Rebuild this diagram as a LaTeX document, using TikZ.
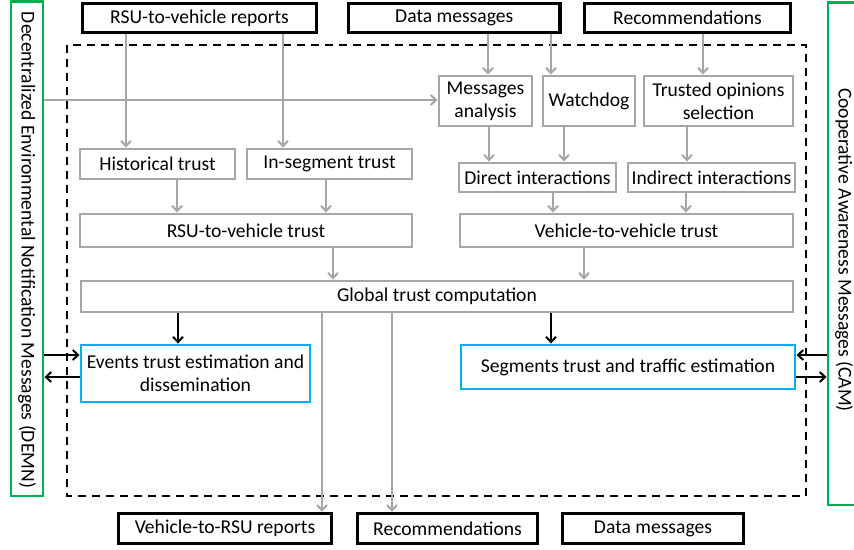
\documentclass[tikz,border=0pt]{standalone}
\usepackage{fontspec}
\setmainfont{Carlito}
\usetikzlibrary{arrows.meta}
\definecolor{boxgray}{HTML}{A6A6A6}
\definecolor{msggreen}{HTML}{00B050}
\definecolor{outblue}{HTML}{00B0F0}
\tikzset{
  base/.style={inner sep=0pt, align=center, font=\fontsize{14.7}{17.2}\selectfont},
  % box given by its left, top, right and bottom edges (in picture units)
  span/.style n args={4}{at={({(#1+#3)/2},{(#2+#4)/2})},
    minimum width={(#3-#1)*0.75pt}, minimum height={(#4-#2)*0.75pt}},
  extbox/.style={base, draw=black, line width=2.6pt},
  procbox/.style={base, draw=boxgray, line width=2.2pt},
  outbox/.style={base, draw=outblue, line width=2.2pt},
  chanbox/.style={base, draw=msggreen, line width=2.2pt},
  tip/.style={-{Straight Barb[length=4pt,width=7.5pt,line width=1.5pt]}},
  grayflow/.style={tip, draw=boxgray, line width=1.6pt},
  blackflow/.style={tip, draw=black, line width=1.6pt},
  frame/.style={draw=black, line width=1.6pt, dash pattern=on 6pt off 4.5pt}
}
\begin{document}
\begin{tikzpicture}[x=0.75pt,y=-0.75pt]
\useasboundingbox (0,0) rectangle (854,550);

% trust management boundary
\draw[frame] (67,45) rectangle (806,496);

% message channels on both sides
\node[chanbox, span={11}{1.5}{43}{496}] (demn) {};
\node[base, rotate=-90] at (27,250) {Decentralized Environmental Notification Messages (DEMN)};
\node[chanbox, span={828}{2.5}{862}{505}] (cam) {};
\node[base, rotate=-90] at (844,250) {Cooperative Awareness Messages (CAM)};

% inputs
\node[extbox, span={82.5}{3.5}{316.5}{32.5}] (rsurep) {RSU-to-vehicle reports};
\node[extbox, span={348.5}{3.5}{560}{32.5}] (datain) {Data messages};
\node[extbox, span={584.5}{3.5}{790.5}{32.5}] (recin) {Recommendations};

% processing blocks
\node[procbox, span={439}{76}{532}{126}] (msgan) {Messages\\analysis};
\node[procbox, span={543}{76}{635}{126}] (watch) {Watchdog};
\node[procbox, span={644}{76}{793}{126}] (tsel) {Trusted opinions\\selection};
\node[procbox, span={459}{163}{616}{192}] (direct) {Direct interactions};
\node[procbox, span={628}{163}{795}{192}] (indirect) {Indirect interactions};
\node[procbox, span={80}{149}{235}{179}] (hist) {Historical trust};
\node[procbox, span={247}{149}{412}{179}] (inseg) {In-segment trust};
\node[procbox, span={80}{214}{412}{247}] (rvtrust) {RSU-to-vehicle trust};
\node[procbox, span={460}{214}{793}{247}] (vvtrust) {Vehicle-to-vehicle trust};
\node[procbox, span={81}{281}{793}{312}] (global) {Global trust computation};

% outputs of the global trust
\node[outbox, span={81}{345}{310}{402}] (events) {Events trust estimation and\\dissemination};
\node[outbox, span={461}{345}{795}{389}] (segs) {Segments trust and traffic estimation};

% outputs
\node[extbox, span={118.5}{513.5}{331.5}{543.5}] (vrrep) {Vehicle-to-RSU reports};
\node[extbox, span={357.5}{513.5}{537.5}{543.5}] (recout) {Recommendations};
\node[extbox, span={562.5}{513.5}{743.5}{543.5}] (dataout) {Data messages};

% input flows
\draw[grayflow] (rsurep.south -| 126,0) -- (hist.north -| 126,0);
\draw[grayflow] (rsurep.south -| 283,0) -- (inseg.north -| 283,0);
\draw[grayflow] (datain.south -| 488,0) -- (msgan.north -| 488,0);
\draw[grayflow] (datain.south -| 551,0) -- (watch.north -| 551,0);
\draw[grayflow] (recin.south -| 703,0) -- (tsel.north -| 703,0);
\draw[grayflow] (demn.east |- 0,100) -- (msgan.west |- 0,100);

% vehicle-to-vehicle branch
\draw[grayflow] (msgan.south -| 489,0) -- (direct.north -| 489,0);
\draw[grayflow] (watch.south -| 564,0) -- (direct.north -| 564,0);
\draw[grayflow] (tsel.south -| 687,0) -- (indirect.north -| 687,0);
\draw[grayflow] (direct.south -| 553,0) -- (vvtrust.north -| 553,0);
\draw[grayflow] (indirect.south -| 686,0) -- (vvtrust.north -| 686,0);

% RSU-to-vehicle branch
\draw[grayflow] (hist.south -| 177,0) -- (rvtrust.north -| 177,0);
\draw[grayflow] (inseg.south -| 326,0) -- (rvtrust.north -| 326,0);

% combination
\draw[grayflow] (rvtrust.south -| 333,0) -- (global.north -| 333,0);
\draw[grayflow] (vvtrust.south -| 584,0) -- (global.north -| 584,0);

% global trust uses
\draw[blackflow] (global.south -| 178,0) -- (events.north -| 178,0);
\draw[blackflow] (global.south -| 551,0) -- (segs.north -| 551,0);
\draw[grayflow] (global.south -| 322,0) -- (vrrep.north -| 322,0);
\draw[grayflow] (global.south -| 392,0) -- (recout.north -| 392,0);

% exchanges with the message channels
\draw[blackflow] (demn.east |- 0,355) -- (events.west |- 0,355);
\draw[blackflow] (events.west |- 0,377) -- (demn.east |- 0,377);
\draw[blackflow] (cam.west |- 0,355) -- (segs.east |- 0,355);
\draw[blackflow] (segs.east |- 0,377) -- (cam.west |- 0,377);
\end{tikzpicture}
\end{document}
